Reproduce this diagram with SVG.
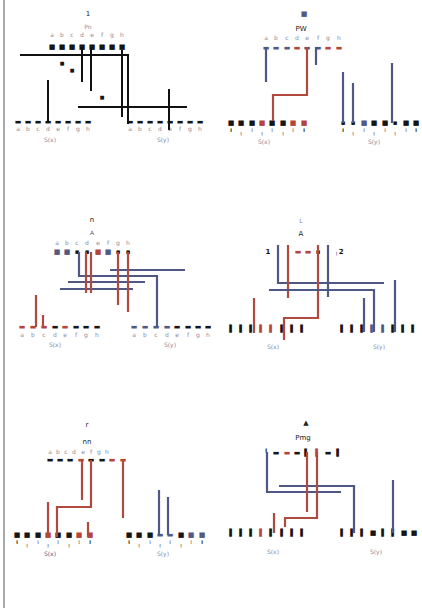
<svg xmlns="http://www.w3.org/2000/svg" width="422" height="608" viewBox="0 0 422 608">
<style>
.bg{fill:#ffffff}
.frame{stroke:#a8a8b0;stroke-width:2;fill:none}
.t{font-family:"DejaVu Sans",sans-serif;font-size:7px;fill:#222;text-anchor:middle}
.lt{font-family:"DejaVu Sans",sans-serif;font-size:6px;fill:#8a8a9a;text-anchor:middle}
.dk{font-family:"DejaVu Sans",sans-serif;font-size:7px;font-weight:bold;fill:#151515;text-anchor:middle}
.r{fill:#b5453a}
.b{fill:#505a82}
.lk{stroke:#111;stroke-width:2;fill:none}
.lr{stroke:#b04a3e;stroke-width:2.2;fill:none}
.lb{stroke:#4f5884;stroke-width:2.2;fill:none}
</style>
<rect class="bg" x="0" y="0" width="422" height="608"/>
<line class="frame" x1="4" y1="0" x2="4" y2="608"/>

<!-- Panel 1 -->
<g id="panel1">
  <g id="p1-top">
    <text class="t" x="88" y="16">1</text>
    <text class="lt" x="88" y="29">Pn</text>
    <text class="lt" x="52 62 72 82 92 102 112 122" y="37">abcdefgh</text>
    <text class="dk" x="52 62 72 82 92 102 112 122" y="49">■■■■■■■■</text>
  </g>
  <g id="p1-marks">
    <text class="dk" x="62" y="65" style="font-size:5px">■</text>
    <text class="dk" x="72" y="72" style="font-size:5px">■</text>
    <text class="dk" x="102" y="99" style="font-size:5px">■</text>
  </g>
  <g id="p1-left">
    <text class="dk" x="18 28 38 48 58 68 78 88" y="124">▬▬▬▬▬▬▬▬</text>
    <text class="lt" x="18 28 38 48 58 68 78 88" y="131">abcdefgh</text>
    <text class="lt" x="50" y="142">S(x)</text>
  </g>
  <g id="p1-right">
    <text class="dk" x="130 140 150 160 170 180 190 200" y="124">▬▬▬▬▬▬▬▬</text>
    <text class="lt" x="130 140 150 160 170 180 190 200" y="131">abcdefgh</text>
    <text class="lt" x="163" y="142">S(y)</text>
  </g>
  <g id="p1-connectors">
    <path class="lk" d="M20 55H128V124"/>
    <path class="lk" d="M82 47V82"/>
    <path class="lk" d="M91 47V91"/>
    <path class="lk" d="M122 50V117"/>
    <path class="lk" d="M48 80V122"/>
    <path class="lk" d="M78 107H187"/>
    <path class="lk" d="M169 89V130"/>
  </g>
</g>

<!-- Panel 2 -->
<g id="panel2">
  <g id="p2-top">
    <text class="t b" x="304" y="16">■</text>
    <text class="t" x="301" y="31">PW</text>
    <text class="lt" x="266 276 287 297 307 318 328 339" y="40">abcdefgh</text>
    <text class="dk" x="266 276 287 297 307 318 328 339" y="50"><tspan class="b">▬▬▬</tspan><tspan class="r">▬</tspan><tspan class="b">▬▬</tspan><tspan class="r">▬▬</tspan></text>
  </g>
  <g id="p2-left">
    <text class="dk" x="231 241 252 262 272 283 293 304" y="125">■■■<tspan class="r">■</tspan>■■<tspan class="r">■■</tspan></text>
    <text class="dk" x="231 241 252 262 272 283 293 304" y="134" style="font-size:6px">╹╷╵╷╵╷╵╹</text>
    <text class="lt" x="264" y="144">S(x)</text>
  </g>
  <g id="p2-right">
    <text class="dk" x="343 353 364 374 385 395 406 416" y="125">▪▪<tspan class="b">■</tspan>■■▪■■</text>
    <text class="dk" x="343 353 364 374 385 395 406 416" y="134" style="font-size:6px">╹╷╵╷╵╷╵╹</text>
    <text class="lt" x="374" y="144">S(y)</text>
  </g>
  <g id="p2-connectors">
    <path class="lb" d="M266 47V82"/>
    <path class="lr" d="M307 47V95H273V121"/>
    <path class="lb" d="M316 47V65"/>
    <path class="lb" d="M343 72V123"/>
    <path class="lb" d="M353 83V123"/>
    <path class="lb" d="M392 63V123"/>
  </g>
</g>

<!-- Panel 3 -->
<g id="panel3">
  <g id="p3-top">
    <text class="t" x="92" y="222">n</text>
    <text class="lt b" x="92" y="235">A</text>
    <text class="lt" x="57 67 77 87 98 108 118 128" y="245">abcdefgh</text>
    <text class="dk" x="57 67 77 87 98 108 118 128" y="254"><tspan class="b">■■</tspan>▪▪<tspan class="r">■</tspan><tspan class="b">■</tspan>▪▪</text>
  </g>
  <g id="p3-left">
    <text class="dk" x="22 33 44 55 65 76 86 97" y="329"><tspan class="r">▬▬▬</tspan>▬<tspan class="r">▬</tspan>▬▬▬</text>
    <text class="lt" x="22 33 44 55 65 76 86 97" y="337">abcdefgh</text>
    <text class="lt" x="55" y="347">S(x)</text>
  </g>
  <g id="p3-right">
    <text class="dk" x="134 145 156 167 177 188 198 208" y="329"><tspan class="b">▬▬▬▬</tspan>▬▬▬▬</text>
    <text class="lt" x="134 145 156 167 177 188 198 208" y="337">abcdefgh</text>
    <text class="lt" x="170" y="347">S(y)</text>
  </g>
  <g id="p3-connectors">
    <path class="lb" d="M79 252V276H157V327"/>
    <path class="lb" d="M110 270H185"/>
    <path class="lb" d="M68 282H145"/>
    <path class="lb" d="M60 289H133"/>
    <path class="lr" d="M86 252V293"/>
    <path class="lr" d="M91 252V293"/>
    <path class="lr" d="M118 252V305"/>
    <path class="lr" d="M128 252V312"/>
    <path class="lr" d="M36 295V327"/>
    <path class="lr" d="M43 315V327"/>
  </g>
</g>

<!-- Panel 4 -->
<g id="panel4">
  <g id="p4-top">
    <text class="lt" x="301" y="223">L</text>
    <text class="t" x="301" y="236">A</text>
    <text class="dk" x="268 278 288 298 308 318 328 339" y="254">1<tspan class="b">╷</tspan><tspan class="r">╷▬▬</tspan>▪<tspan class="r">╷</tspan><tspan class="b">╷</tspan>2</text>
  </g>
  <g id="p4-left">
    <text class="dk" x="232 242 252 262 272 283 293 303" y="331">▌▌▌<tspan class="r">▌▌</tspan>▌▌▌</text>
    <text class="lt" x="273" y="349">S(x)</text>
  </g>
  <g id="p4-right">
    <text class="dk" x="343 353 363 373 384 394 404 414" y="331">▌▌▌<tspan class="b">▌▌</tspan>▌▌▌</text>
    <text class="lt" x="379" y="349">S(y)</text>
  </g>
  <g id="p4-connectors">
    <path class="lb" d="M278 245V283H384"/>
    <path class="lr" d="M288 245V298"/>
    <path class="lr" d="M318 245V318H284V340"/>
    <path class="lb" d="M328 245V297"/>
    <path class="lb" d="M269 290H374V332"/>
    <path class="lb" d="M364 298V332"/>
    <path class="lb" d="M395 280V332"/>
    <path class="lr" d="M254 298V333"/>
  </g>
</g>

<!-- Panel 5 -->
<g id="panel5">
  <g id="p5-top">
    <text class="t" x="87" y="427">r</text>
    <text class="t" x="87" y="444">nn</text>
    <text class="lt" x="50 58 66 74 83 91 99 107" y="454">abcdefgh</text>
    <text class="dk" x="50 60 70 81 91 102 112 123" y="462">▬▬▬<tspan class="r">▬</tspan>▬▬<tspan class="r">▬▬</tspan></text>
  </g>
  <g id="p5-left">
    <text class="dk" x="17 27 38 48 58 69 79 90" y="537">■■■<tspan class="r">■</tspan>■■<tspan class="r">■■</tspan></text>
    <text class="dk" x="17 27 38 48 58 69 79 90" y="546" style="font-size:6px">╹╷╵╷╵╷╵╹</text>
    <text class="lt b" x="50" y="556">S(x)</text>
  </g>
  <g id="p5-right">
    <text class="dk" x="129 139 150 160 170 181 191 202" y="537">■■■<tspan class="b">▬▬</tspan>■<tspan class="b">■■</tspan></text>
    <text class="dk" x="129 139 150 160 170 181 191 202" y="546" style="font-size:6px">╹╷╵╷╵╷╵╹</text>
    <text class="lt" x="163" y="556">S(y)</text>
  </g>
  <g id="p5-connectors">
    <path class="lr" d="M82 460V500"/>
    <path class="lr" d="M91 460V507H57V537"/>
    <path class="lr" d="M123 460V518"/>
    <path class="lr" d="M48 502V537"/>
    <path class="lr" d="M88 522V537"/>
    <path class="lb" d="M159 490V535"/>
    <path class="lb" d="M168 497V535"/>
  </g>
</g>

<!-- Panel 6 -->
<g id="panel6">
  <g id="p6-top">
    <text class="t" x="306" y="425">▲</text>
    <text class="t" x="303" y="440">Pmg</text>
    <text class="dk" x="266 276 287 297 307 318 328 339" y="455">╹▬<tspan class="r">▬</tspan>▬▌<tspan class="r">▌</tspan>▬▌</text>
  </g>
  <g id="p6-left">
    <text class="dk" x="232 242 252 262 272 283 293 303" y="535">▌▌▌<tspan class="r">▌</tspan>▌▌▌▌</text>
    <text class="lt" x="273" y="554">S(x)</text>
  </g>
  <g id="p6-right">
    <text class="dk" x="343 353 363 373 384 394 404 414" y="535">▌▌▌■▌▌■■</text>
    <text class="lt" x="376" y="554">S(y)</text>
  </g>
  <g id="p6-connectors">
    <path class="lb" d="M267 452V492H341"/>
    <path class="lb" d="M279 486H354V533"/>
    <path class="lr" d="M307 452V512"/>
    <path class="lr" d="M317 452V518H285V527"/>
    <path class="lr" d="M274 513V533"/>
    <path class="lb" d="M393 480V533"/>
  </g>
</g>
</svg>
